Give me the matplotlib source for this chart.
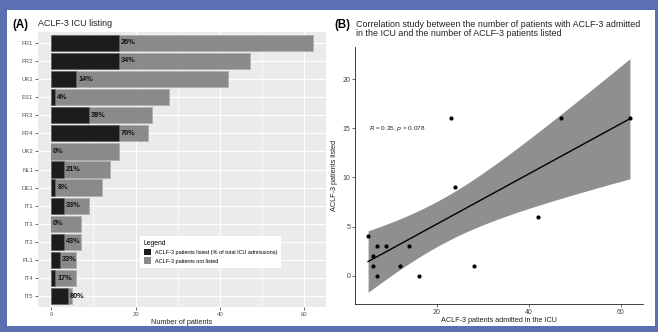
import numpy as np
import matplotlib
matplotlib.use("Agg")
import matplotlib.pyplot as plt
from matplotlib.patches import Patch, Rectangle

plt.rcParams["font.family"] = ["Liberation Sans", "DejaVu Sans"]

# ICU centres, patients with ACLF-3 admitted and listed for transplant
centres = ["FR1", "FR2", "UK1", "ES1", "FR3", "FR4", "UK2", "NL1",
           "DE1", "IT1", "IT3", "IT2", "PL1", "IT4", "IT5"]
admitted = [62, 47, 42, 28, 24, 23, 16, 14, 12, 9, 7, 7, 6, 6, 5]
listed = [16, 16, 6, 1, 9, 16, 0, 3, 1, 3, 0, 3, 2, 1, 4]

corr_label_r = "0.35"
corr_label_p = "0.078"

W, H = 658, 332
fig = plt.figure(figsize=(W / 100, H / 100), dpi=100)
fig.patch.set_facecolor("#5b6fb2")
fig.patches.append(Rectangle((7 / W, 6 / H), 648 / W, 316 / H,
                             transform=fig.transFigure, facecolor="white",
                             edgecolor="none", zorder=-5))


def px_axes(x0, y0, x1, y1):
    return fig.add_axes([x0 / W, (H - y1) / H, (x1 - x0) / W, (y1 - y0) / H])


# ---------------- (A) bar chart ----------------
axA = px_axes(38, 32, 326, 307)
axA.set_facecolor("#ebebeb")
ypos = np.arange(len(centres))[::-1]
not_listed_color = "#8a8a8a"
listed_color = "#1c1c1c"
axA.barh(ypos, admitted, height=0.9, color=not_listed_color,
         edgecolor="#b0b0b0", linewidth=0.6, zorder=2)
axA.barh(ypos, listed, height=0.9, color=listed_color,
         edgecolor="#6a6a6a", linewidth=0.4, zorder=3)
for y, a, l in zip(ypos, admitted, listed):
    pct = int(round(100 * l / a))
    axA.text(l + 0.5, y, f"{pct}%", ha="left", va="center",
             fontsize=5.3, fontweight="bold", color="#111111", zorder=4)

axA.set_xlim(-3.1, 65.1)
axA.set_ylim(-0.6, len(centres) - 0.4)
axA.set_yticks(ypos)
axA.set_yticklabels(centres)
axA.set_xticks([0, 20, 40, 60])
axA.set_xticks([10, 30, 50], minor=True)
axA.grid(which="major", color="white", linewidth=0.8, zorder=0)
axA.grid(which="minor", axis="x", color="white", linewidth=0.4, zorder=0)
axA.set_axisbelow(True)
for s in axA.spines.values():
    s.set_visible(False)
axA.tick_params(axis="both", which="major", labelsize=4.3, colors="#333333",
                labelcolor="#555555", length=2, width=0.5, pad=1.5)
axA.tick_params(axis="both", which="minor", length=0)
axA.set_xlabel("Number of patients", fontsize=5.2, labelpad=1.5,
               color="#222222")

fig.text(12 / W, 1 - 25 / H, "(A)", fontsize=8.3, fontweight="bold",
         va="center", ha="left")
fig.text(38 / W, 1 - 24 / H, "ACLF-3 ICU listing", fontsize=6.4,
         va="center", ha="left", color="#222222")

handles = [Patch(facecolor=listed_color, edgecolor="none"),
           Patch(facecolor=not_listed_color, edgecolor="none")]
leg = axA.legend(handles,
                 ["ACLF-3 patients listed (% of total ICU admissions)",
                  "ACLF-3 patients not listed"],
                 title="Legend", loc="upper left",
                 bbox_to_anchor=(137 / W, 1 - 233 / H),
                 bbox_transform=fig.transFigure,
                 fontsize=4.0, title_fontsize=4.9, frameon=True,
                 fancybox=False, framealpha=1, edgecolor="white",
                 handlelength=1.3, handleheight=1.5, handletextpad=0.7,
                 labelspacing=0.35, borderpad=0.7, alignment="left")
leg.get_frame().set_linewidth(0)

# ---------------- (B) correlation ----------------
x = np.array(admitted, dtype=float)
y = np.array(listed, dtype=float)
n = len(x)
slope, intercept = np.polyfit(x, y, 1)
xs = np.linspace(x.min(), x.max(), 200)
fit = intercept + slope * xs
resid = y - (intercept + slope * x)
s_err = np.sqrt(np.sum(resid ** 2) / (n - 2))
t_crit = 2.160  # two-sided 95 % quantile, 13 degrees of freedom
se_fit = s_err * np.sqrt(1 / n + (xs - x.mean()) ** 2 / np.sum((x - x.mean()) ** 2))
lo, hi = fit - t_crit * se_fit, fit + t_crit * se_fit

axB = px_axes(355, 47, 643, 304)
axB.fill_between(xs, lo, hi, color="#8f8f8f", linewidth=0, zorder=1)
axB.plot(xs, fit, color="black", linewidth=1.0, zorder=2)
axB.scatter(x, y, s=9, color="black", zorder=3, linewidths=0)
axB.text(5.3, 15, f"$R$ = {corr_label_r}, $p$ = {corr_label_p}",
         fontsize=4.6, ha="left", va="center", color="#222222")

xr = x.max() - x.min()
axB.set_xlim(x.min() - 0.05 * xr, x.max() + 0.05 * xr)
ymin, ymax = min(lo.min(), y.min()), max(hi.max(), y.max())
yr = ymax - ymin
axB.set_ylim(ymin - 0.05 * yr, ymax + 0.05 * yr)
axB.set_xticks([20, 40, 60])
axB.set_yticks([0, 5, 10, 15, 20])
for side in ("top", "right"):
    axB.spines[side].set_visible(False)
for side in ("left", "bottom"):
    axB.spines[side].set_linewidth(0.6)
    axB.spines[side].set_color("#222222")
axB.tick_params(labelsize=5.0, colors="#333333", labelcolor="#444444",
                length=2, width=0.5, pad=1.5)
axB.set_xlabel("ACLF-3 patients admitted in the ICU", fontsize=5.2,
               labelpad=1.0, color="#222222")
axB.set_ylabel("ACLF-3 patients listed", fontsize=5.2, labelpad=3,
               color="#222222")

fig.text(334 / W, 1 - 25 / H, "(B)", fontsize=8.3, fontweight="bold",
         va="center", ha="left")
fig.text(356 / W, 1 - 29 / H,
         "Correlation study between the number of patients with ACLF-3 admitted\n"
         "in the ICU and the number of ACLF-3 patients listed",
         fontsize=6.4, va="center", ha="left", color="#222222",
         linespacing=1.05)

fig.savefig("out.png", dpi=100, facecolor=fig.get_facecolor())
